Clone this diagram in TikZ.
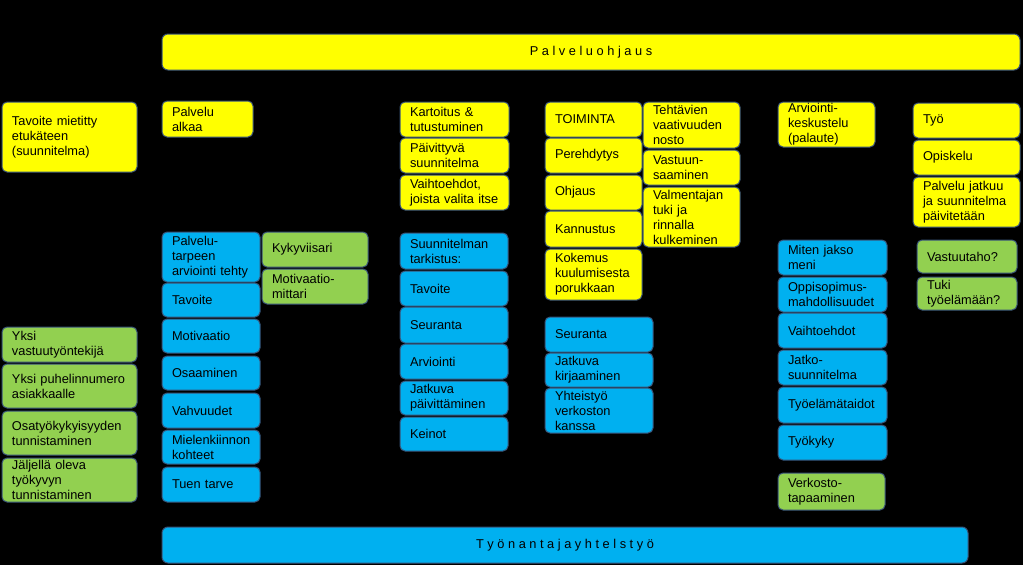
\documentclass[tikz,border=0pt]{standalone}
\usepackage{fontspec}
\setmainfont{Liberation Sans}
\definecolor{yel}{RGB}{255,255,0}
\definecolor{blu}{RGB}{0,176,240}
\definecolor{grn}{RGB}{146,208,80}
\definecolor{edgec}{RGB}{56,83,120}
\tikzset{
 base/.style={draw=edgec, line width=1pt, rounded corners=5pt, inner xsep=10pt, inner ysep=0pt, outer sep=0pt, align=left, font=\fontsize{12.8}{15}\selectfont, text=black},
 ybox/.style={base, fill=yel},
 bbox/.style={base, fill=blu},
 gbox/.style={base, fill=grn},
 bar/.style={draw=edgec, line width=1pt, rounded corners=6pt, inner sep=0pt, outer sep=0pt, align=center, font=\fontsize{12.8}{15}\selectfont, text=black}
}
\newcommand\bx[7]{%
 \pgfmathsetmacro\bxw{#4-#2}%
 \pgfmathsetmacro\bxh{#5-#3}%
 \pgfmathsetmacro\bxt{#4-#2-20}%
 \pgfmathsetmacro\bxcx{(#2+#4)/2}%
 \pgfmathsetmacro\bxcy{(#3+#5)/2}%
 \node[#6, minimum width=\bxw pt, minimum height=\bxh pt, text width=\bxt pt] (#1) at (\bxcx,\bxcy) {#7};}
\begin{document}
\begin{tikzpicture}[x=1pt,y=-1pt]
\fill[black] (0,0) rectangle (1023,565);
\useasboundingbox (0,0) rectangle (1023,565);
% bars
\node[bar, fill=yel, minimum width=858pt, minimum height=36pt] (top) at (591,52) {P a l v e l u o h j a u s};
\node[bar, fill=blu, minimum width=806pt, minimum height=36pt] (bot) at (565,545) {T y ö n a n t a j a y h t e l s t y ö};
% left column
\bx{a1}{2}{102}{137}{172}{ybox}{Tavoite mietitty\\etukäteen\\(suunnitelma)}
\bx{g1}{2}{327}{137}{362}{gbox}{Yksi\\vastuutyöntekijä}
\bx{g2}{2}{364}{137}{408}{gbox}{Yksi puhelinnumero\\asiakkaalle}
\bx{g3}{2}{411}{137}{455}{gbox}{Osatyökykyisyyden\\tunnistaminen}
\bx{g4}{2}{458}{137}{502}{gbox}{Jäljellä oleva\\työkyvyn\\tunnistaminen}
% column 2
\bx{b0}{162}{101}{253}{137}{ybox}{Palvelu\\alkaa}
\bx{c1}{162}{232}{260}{282}{bbox}{Palvelu-\\tarpeen\\arviointi tehty}
\bx{c2}{162}{283}{260}{317}{bbox}{Tavoite}
\bx{c3}{162}{319}{260}{353}{bbox}{Motivaatio}
\bx{c4}{162}{356}{260}{390}{bbox}{Osaaminen}
\bx{c5}{162}{393}{260}{428}{bbox}{Vahvuudet}
\bx{c6}{162}{430}{260}{464}{bbox}{Mielenkiinnon\\kohteet}
\bx{c7}{162}{467}{260}{502}{bbox}{Tuen tarve}
\bx{k1}{262}{232}{368}{267}{gbox}{Kykyviisari}
\bx{k2}{262}{269}{368}{304}{gbox}{Motivaatio-\\mittari}
% column 3
\bx{d1}{400}{102}{509}{137}{ybox}{Kartoitus \&\\tutustuminen}
\bx{d2}{400}{138}{509}{173}{ybox}{Päivittyvä\\suunnitelma}
\bx{d3}{400}{175}{509}{210}{ybox}{Vaihtoehdot,\\joista valita itse}
\bx{e1}{400}{233}{508}{269}{bbox}{Suunnitelman\\tarkistus:}
\bx{e2}{400}{271}{508}{306}{bbox}{Tavoite}
\bx{e3}{400}{307}{508}{343}{bbox}{Seuranta}
\bx{e4}{400}{344}{508}{379}{bbox}{Arviointi}
\bx{e5}{400}{381}{508}{415}{bbox}{Jatkuva\\päivittäminen}
\bx{e6}{400}{417}{508}{451}{bbox}{Keinot}
% column 4
\bx{f1}{545}{102}{642}{137}{ybox}{TOIMINTA}
\bx{f2}{545}{138}{642}{173}{ybox}{Perehdytys}
\bx{f3}{545}{175}{642}{210}{ybox}{Ohjaus}
\bx{f4}{545}{211}{642}{247}{ybox}{Kannustus}
\bx{f5}{545}{249}{642}{300}{ybox}{Kokemus\\kuulumisesta\\porukkaan}
\bx{h1}{545}{317}{653}{352}{bbox}{Seuranta}
\bx{h2}{545}{353}{653}{387}{bbox}{Jatkuva\\kirjaaminen}
\bx{h3}{545}{388}{653}{433}{bbox}{Yhteistyö\\verkoston\\kanssa}
% column 5
\bx{i1}{643}{102}{740}{148}{ybox}{Tehtävien\\vaativuuden\\nosto}
\bx{i2}{643}{150}{740}{185}{ybox}{Vastuun-\\saaminen}
\bx{i3}{643}{187}{740}{247}{ybox}{Valmentajan\\tuki ja\\rinnalla\\kulkeminen}
% column 6
\bx{j0}{778}{102}{875}{147}{ybox}{Arviointi-\\keskustelu\\(palaute)}
\bx{j1}{778}{240}{887}{275}{bbox}{Miten jakso\\meni}
\bx{j2}{778}{277}{887}{312}{bbox}{Oppisopimus-\\mahdollisuudet}
\bx{j3}{778}{313}{887}{348}{bbox}{Vaihtoehdot}
\bx{j4}{778}{350}{887}{385}{bbox}{Jatko-\\suunnitelma}
\bx{j5}{778}{387}{887}{423}{bbox}{Työelämätaidot}
\bx{j6}{778}{425}{887}{460}{bbox}{Työkyky}
\bx{j7}{778}{473}{885}{510}{gbox}{Verkosto-\\tapaaminen}
% column 7
\bx{l1}{913}{103}{1020}{138}{ybox}{Työ}
\bx{l2}{913}{140}{1020}{175}{ybox}{Opiskelu}
\bx{l3}{913}{177}{1020}{227}{ybox}{Palvelu jatkuu\\ja suunnitelma\\päivitetään}
\bx{m1}{917}{240}{1017}{273}{gbox}{Vastuutaho?}
\bx{m2}{917}{277}{1017}{310}{gbox}{Tuki\\työelämään?}
\end{tikzpicture}
\end{document}
